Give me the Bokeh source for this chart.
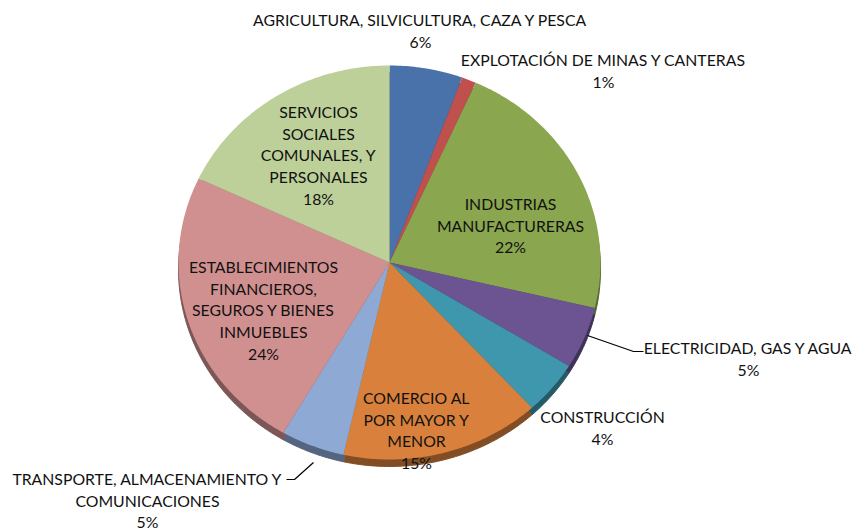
import numpy as np
from bokeh.plotting import figure
from bokeh.models import Range1d, ColumnDataSource
from bokeh.core.properties import value
from bokeh.embed import file_html
from bokeh.resources import INLINE

# ---- data ----
categories = [
    "AGRICULTURA, SILVICULTURA, CAZA Y PESCA",
    "EXPLOTACIÓN DE MINAS Y CANTERAS",
    "INDUSTRIAS MANUFACTURERAS",
    "ELECTRICIDAD, GAS Y AGUA",
    "CONSTRUCCIÓN",
    "COMERCIO AL POR MAYOR Y MENOR",
    "TRANSPORTE, ALMACENAMIENTO Y COMUNICACIONES",
    "ESTABLECIMIENTOS FINANCIEROS, SEGUROS Y BIENES INMUEBLES",
    "SERVICIOS SOCIALES COMUNALES, Y PERSONALES",
]
shares = [5.6, 1.1, 22.0, 5.1, 4.4, 15.3, 4.9, 23.6, 18.0]
label_lines = [
    ["AGRICULTURA, SILVICULTURA, CAZA Y PESCA"],
    ["EXPLOTACIÓN DE MINAS Y CANTERAS"],
    ["INDUSTRIAS", "MANUFACTURERAS"],
    ["ELECTRICIDAD, GAS Y AGUA"],
    ["CONSTRUCCIÓN"],
    ["COMERCIO AL", "POR MAYOR Y", "MENOR"],
    ["TRANSPORTE, ALMACENAMIENTO Y", "COMUNICACIONES"],
    ["ESTABLECIMIENTOS", "FINANCIEROS,", "SEGUROS Y BIENES", "INMUEBLES"],
    ["SERVICIOS", "SOCIALES", "COMUNALES, Y", "PERSONALES"],
]

# ---- style / layout ----
colors = ["#4a72aa", "#c0504d", "#8aa64f", "#6b5491", "#3f97ad",
          "#d9813c", "#8fa9d5", "#d19090", "#bdd09a"]
W, H = 855, 530
OFF = 0                    # offset of the figure in the photographed page
CX, CY = 389, 262          # pie centre in picture pixels
RX, RY = 211, 197
DEPTH = 7
FONT = "Lato"
FS = 15.8
LH = 21.7
# first-line centre positions of each label block (picture pixels)
label_pos = [(420, 19), (603, 59), (510, 203), (748, 347), (602, 416),
             (416, 397), (147, 478), (263, 266), (318, 111)]
leaders = [
    None, None, None,
    [(587, 335), (633, 351), (643, 351)],
    None, None,
    [(313, 462), (294, 479), (286, 479)],
    None, None,
]

def px(X):
    return X - CX

def py(Y):
    return CY - Y

def darker(hexc, f=0.6):
    r, g, b = int(hexc[1:3], 16), int(hexc[3:5], 16), int(hexc[5:7], 16)
    return "#%02x%02x%02x" % (int(r * f), int(g * f), int(b * f))

p = figure(width=W, height=H, output_backend="svg", toolbar_location=None,
           x_range=Range1d(-(CX - OFF), W - (CX - OFF)),
           y_range=Range1d(-(H - (CY - OFF)), CY - OFF),
           min_border=0, outline_line_color=None)
p.axis.visible = False
p.grid.visible = False
p.background_fill_color = "white"
p.border_fill_color = "white"

vals = np.array(shares, dtype=float)
frac = vals / vals.sum()
ends = np.cumsum(frac) * 2 * np.pi
starts = ends - frac * 2 * np.pi

xs, ys, xs_d, ys_d = [], [], [], []
for a0, a1 in zip(starts, ends):
    t = np.linspace(a0, a1, max(8, int((a1 - a0) * 80)))
    x = np.concatenate([[0], RX * np.sin(t), [0]])
    y = np.concatenate([[0], RY * np.cos(t), [0]])
    xs.append(list(x)); ys.append(list(y))
    xs_d.append(list(x)); ys_d.append(list(y - DEPTH))

side = ColumnDataSource(dict(xs=xs_d, ys=ys_d, c=[darker(c) for c in colors]))
top = ColumnDataSource(dict(xs=xs, ys=ys, c=colors))
p.patches("xs", "ys", source=side, fill_color="c", line_color="c", line_width=1)
p.patches("xs", "ys", source=top, fill_color="c", line_color=None)

# leader lines
for ld in leaders:
    if ld:
        p.line([px(a) for a, b in ld], [py(b) for a, b in ld],
               line_color="black", line_width=1.2)

# labels
tx, ty, tt = [], [], []
for i, lines in enumerate(label_lines):
    X, Y = label_pos[i]
    allines = lines + ["%d%%" % round(shares[i])]
    for k, s in enumerate(allines):
        tx.append(px(X)); ty.append(py(Y + k * LH)); tt.append(s)
p.text(x="x", y="y", text="t", source=ColumnDataSource(dict(x=tx, y=ty, t=tt)),
       text_font=value(FONT), text_font_size="%gpx" % FS, text_color="#111111",
       text_align="center", text_baseline="middle")

open("out.html", "w").write(file_html(p, INLINE))
